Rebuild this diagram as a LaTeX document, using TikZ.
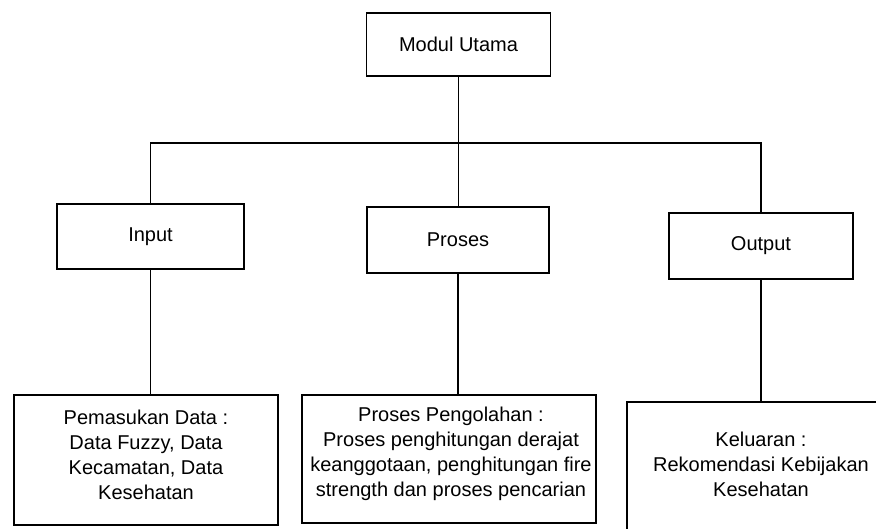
\documentclass[tikz,border=0pt]{standalone}
\usepackage{fontspec}
\setmainfont{Liberation Sans}
\begin{document}
\begin{tikzpicture}[x=1pt,y=-1pt,
  box/.style={draw, line width=1.1pt, rectangle, inner sep=0pt},
  txt/.style={align=center, inner sep=0pt, anchor=north, font=\fontsize{20}{25}\selectfont},
  lbl/.style={font=\fontsize{20}{25}\selectfont},
  wire/.style={line width=1.1pt}]
  \useasboundingbox[fill=white] (0,0) rectangle (876,529);

  % upper level
  \node[box, lbl, minimum width=184pt, minimum height=63pt] (mu) at (458.5,44.5) {Modul Utama};
  \node[box, lbl, minimum width=187pt, minimum height=65pt] (inp) at (150.5,236.5) {Input};
  \node[box, lbl, minimum width=182pt, minimum height=66pt] (pr) at (458,240) {Proses};
  \node[box, lbl, minimum width=184pt, minimum height=66pt] (out) at (761,246) {Output};

  % lower level boxes
  \node[box, minimum width=264pt, minimum height=130pt] (pem) at (146,460) {};
  \node[box, minimum width=294pt, minimum height=128pt] (pen) at (449,459) {};
  \node[box, minimum width=268pt, minimum height=143pt] (kel) at (761,473.5) {};

  % their texts
  \node[txt] (pemT) at (146,410) {Pemasukan Data :\\Data Fuzzy, Data\\Kecamatan, Data\\Kesehatan};
  \node[txt] (penT) at (451,407) {Proses Pengolahan :\\Proses penghitungan derajat\\keanggotaan, penghitungan fire\\strength dan proses pencarian};
  \node[txt] (kelT) at (761,432) {Keluaran :\\Rekomendasi Kebijakan\\Kesehatan};

  % connectors
  \coordinate (bus) at (0,143);
  \draw[wire] (mu.south) -- (mu.south |- pr.north);
  \draw[wire] (inp.north) -- (inp.north |- bus) -- (out.north |- bus) -- (out.north);
  \draw[wire] (inp.south) -- (inp.south |- pem.north);
  \draw[wire] (pr.south) -- (pr.south |- pen.north);
  \draw[wire] (out.south) -- (out.south |- kel.north);
\end{tikzpicture}
\end{document}
